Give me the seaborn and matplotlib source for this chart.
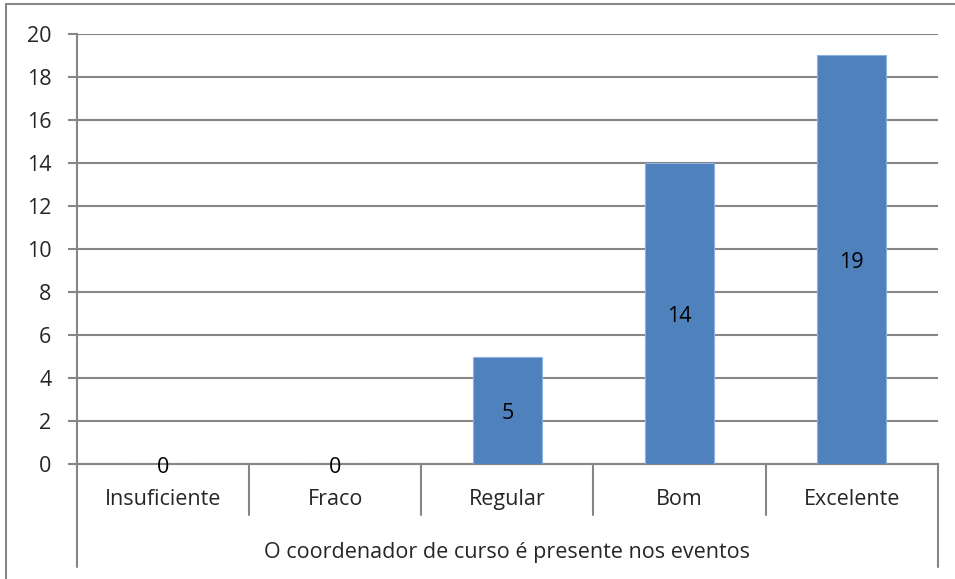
import matplotlib
matplotlib.use("Agg")
import matplotlib.pyplot as plt
import matplotlib.transforms as mtrans
import seaborn as sns
import pandas as pd

categories = ["Insuficiente", "Fraco", "Regular", "Bom", "Excelente"]
counts = [0, 0, 5, 14, 19]
group_label = "O coordenador de curso é presente nos eventos"

df = pd.DataFrame({"categoria": categories, "n": counts})

sns.set_style("white")
plt.rcParams["font.family"] = ["Open Sans", "DejaVu Sans"]

fig = plt.figure(figsize=(9.55, 5.79), dpi=100)
ax = fig.add_axes([0.0806, 0.1986, 0.9014, 0.7427])

grid_c = "#868686"
lw = 1.5
fs = 15.5
sns.barplot(data=df, x="categoria", y="n", color="#4F81BD", width=0.4,
            edgecolor="#8DB3E2", linewidth=0.8, saturation=1, ax=ax, zorder=3)

ax.set_ylim(0, 20)
ax.set_xlim(-0.5, len(categories) - 0.5)
ax.set_yticks(range(0, 21, 2))
ax.yaxis.grid(True, color=grid_c, linewidth=lw)
ax.set_axisbelow(True)
for s in ["top", "right"]:
    ax.spines[s].set_visible(False)
for s in ["left", "bottom"]:
    ax.spines[s].set_color(grid_c)
    ax.spines[s].set_linewidth(lw)
ax.tick_params(axis="y", length=6.5, width=lw, color=grid_c, labelsize=fs, pad=12, left=True)
ax.set_xticks([])
ax.set_xlabel("")
ax.set_ylabel("")

# value labels, nudged down a few pixels like the original
nudge = mtrans.offset_copy(ax.transData, fig=fig, x=0, y=-3, units="dots")
for i, v in enumerate(counts):
    ax.text(i, v / 2, str(v), ha="center", va="center", fontsize=fs, color="black",
            zorder=4, transform=nudge)

# category labels and separators (Excel multi-level axis)
trans = ax.get_xaxis_transform()
for i, c in enumerate(categories):
    ax.text(i, -0.082, c, ha="center", va="center", fontsize=fs, transform=trans)
for b in range(len(categories) + 1):
    x = b - 0.5
    low = -0.239 if b in (0, len(categories)) else -0.119
    ax.plot([x, x], [0, low], color=grid_c, linewidth=lw, transform=trans, clip_on=False)
ax.text((len(categories) - 1) / 2, -0.205, group_label, ha="center", va="center",
        fontsize=fs, transform=trans)

# chart frame
fig.add_artist(plt.Line2D([6 / 955, 1], [1 - 4 / 579, 1 - 4 / 579], color=grid_c, linewidth=lw))
fig.add_artist(plt.Line2D([6 / 955, 6 / 955], [0, 1 - 4 / 579], color=grid_c, linewidth=lw))

fig.savefig("out.png", dpi=100)
